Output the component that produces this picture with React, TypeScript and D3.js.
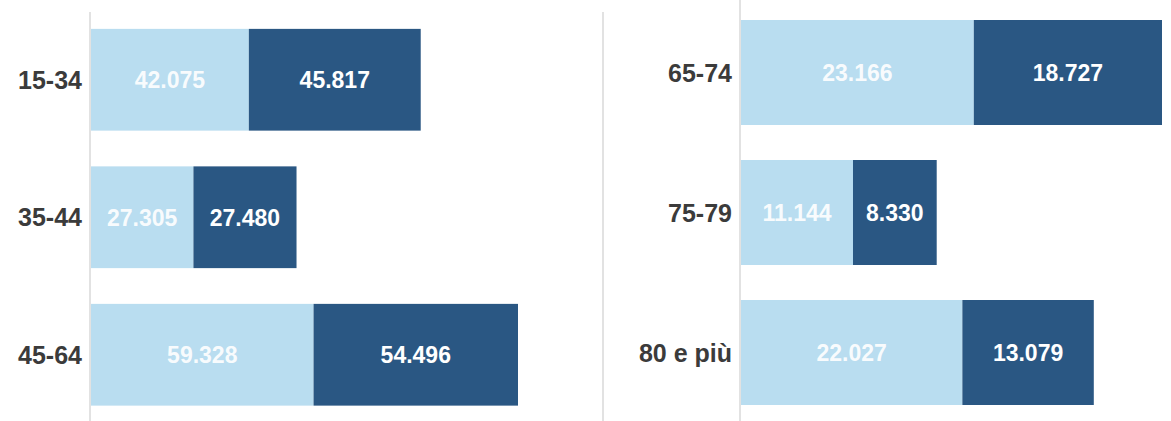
import React from "react";
import * as d3 from "d3";

const leftAges = ["15-34", "35-44", "45-64"];
const leftLight = [42075, 27305, 59328];
const leftDark = [45817, 27480, 54496];

const rightAges = ["65-74", "75-79", "80 e più"];
const rightLight = [23166, 11144, 22027];
const rightDark = [18727, 8330, 13079];

const LIGHT = "#b9ddf0";
const DARK = "#2a5783";
const FONT = "'Liberation Sans', Arial, sans-serif";

const it = d3.formatLocale({ decimal: ",", thousands: ".", grouping: [3], currency: ["€", ""] });
const fmt = it.format(",d");

type PanelProps = {
  ages: string[];
  light: number[];
  dark: number[];
  x0: number;
  x1: number;
  y0: number;
  y1: number;
  pad: number;
};

const Panel = ({ ages, light, dark, x0, x1, y0, y1, pad }: PanelProps) => {
  const totals = ages.map((_, i) => light[i] + dark[i]);
  const x = d3.scaleLinear().domain([0, d3.max(totals)!]).range([x0, x1]);
  const y = d3.scaleBand().domain(ages).range([y0, y1]).paddingInner(pad).paddingOuter(pad / 2);
  const bw = y.bandwidth();

  return (
    <g>
      {ages.map((a, i) => {
        const top = y(a)!;
        const mid = top + bw / 2;
        const xa = x(0), xb = x(light[i]), xc = x(light[i] + dark[i]);
        return (
          <g key={a}>
            <rect x={xa} y={top} width={xb - xa} height={bw} fill={LIGHT} />
            <rect x={xb} y={top} width={xc - xb} height={bw} fill={DARK} />
            <text x={(xa + xb) / 2} y={mid} dy="0.36em" textAnchor="middle"
              fill="#ffffff" fillOpacity={0.92} fontSize={23} fontWeight="bold" fontFamily={FONT}>{fmt(light[i])}</text>
            <text x={(xb + xc) / 2} y={mid} dy="0.36em" textAnchor="middle"
              fill="#ffffff" fontSize={23} fontWeight="bold" fontFamily={FONT}>{fmt(dark[i])}</text>
            <text x={xa - 9} y={mid} dy="0.36em" textAnchor="end"
              fill="#3b3b3b" fontSize={25} fontWeight="bold" fontFamily={FONT}>{a}</text>
          </g>
        );
      })}
    </g>
  );
};

export default function App() {
  const width = 1171;
  const height = 421;
  return (
    <svg width={width} height={height} style={{ position: "absolute", left: 0, top: 0, background: "#fff" }}>
      <line x1={90} x2={90} y1={12} y2={height} stroke="#e2e2e2" strokeWidth={2} />
      <line x1={603} x2={603} y1={12} y2={height} stroke="#e2e2e2" strokeWidth={2} />
      <line x1={740} x2={740} y1={0} y2={height} stroke="#e2e2e2" strokeWidth={2} />
      <Panel ages={leftAges} light={leftLight} dark={leftDark} x0={91} x1={518} y0={11} y1={423.5} pad={0.26} />
      <Panel ages={rightAges} light={rightLight} dark={rightDark} x0={741} x1={1162} y0={2.5} y1={422.5} pad={0.25} />
    </svg>
  );
}
